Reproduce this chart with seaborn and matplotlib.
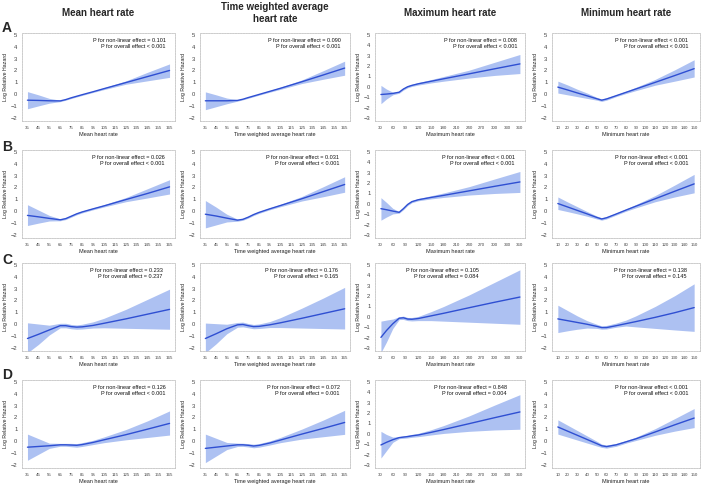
import numpy as np
import matplotlib
matplotlib.use("Agg")
import matplotlib.pyplot as plt
import seaborn as sns

sns.set_style("white")
plt.rcParams["font.family"] = ["Liberation Sans", "DejaVu Sans"]

# ─── Data ───────────────────────────────────────────────────────────────────
col_titles = ["Mean heart rate", "Time weighted average\nheart rate",
              "Maximum heart rate", "Minimum heart rate"]
x_labels = ["Mean heart rate", "Time weighted average heart rate",
            "Maximum heart rate", "Minimum heart rate"]
row_letters = ["A", "B", "C", "D"]

mean_x = [35, 45, 55, 65, 70, 75, 80, 85, 95, 105, 125, 145, 165]
twa_x = [35, 45, 55, 65, 70, 75, 80, 85, 95, 105, 125, 145, 165]
max_x = [32, 45, 60, 75, 85, 95, 105, 120, 150, 180, 240, 300, 360]
min_x = [10, 20, 30, 40, 50, 55, 60, 70, 80, 90, 110, 130, 150]

mean_ticks = list(range(35, 166, 10))
twa_ticks = list(range(35, 166, 10))
max_ticks = list(range(30, 361, 30))
min_ticks = list(range(10, 151, 10))

# Row A
a_mean_fit = [-0.5, -0.52, -0.55, -0.56, -0.45, -0.3, -0.17, -0.04, 0.21, 0.47, 0.98, 1.49, 2.0]
a_mean_lo = [-1.22, -0.98, -0.75, -0.62, -0.5, -0.36, -0.23, -0.1, 0.15, 0.39, 0.84, 1.13, 1.42]
a_mean_hi = [0.22, -0.05, -0.35, -0.5, -0.4, -0.24, -0.11, 0.02, 0.27, 0.55, 1.12, 1.85, 2.55]
a_twa_fit = [-0.55, -0.55, -0.55, -0.52, -0.42, -0.28, -0.15, -0.02, 0.24, 0.5, 1.05, 1.62, 2.2]
a_twa_lo = [-1.3, -1.05, -0.8, -0.58, -0.47, -0.34, -0.21, -0.08, 0.17, 0.41, 0.9, 1.26, 1.6]
a_twa_hi = [0.2, -0.05, -0.32, -0.46, -0.37, -0.22, -0.09, 0.04, 0.31, 0.59, 1.2, 1.98, 2.78]
a_max_fit = [-0.72, -0.68, -0.62, -0.5, -0.2, 0.02, 0.15, 0.3, 0.54, 0.78, 1.25, 1.73, 2.2]
a_max_lo = [-1.6, -1.15, -0.75, -0.6, -0.3, -0.08, 0.05, 0.18, 0.38, 0.55, 0.85, 1.1, 1.28]
a_max_hi = [0.15, -0.2, -0.5, -0.42, -0.1, 0.12, 0.25, 0.42, 0.7, 1.0, 1.6, 2.35, 3.1]
a_min_fit = [0.6, 0.36, 0.11, -0.13, -0.38, -0.5, -0.4, -0.12, 0.16, 0.44, 1.0, 1.57, 2.15]
a_min_lo = [0.1, -0.05, -0.2, -0.35, -0.5, -0.6, -0.5, -0.2, 0.06, 0.3, 0.76, 1.1, 1.45]
a_min_hi = [1.1, 0.78, 0.42, 0.1, -0.26, -0.4, -0.3, -0.04, 0.26, 0.58, 1.25, 2.05, 2.9]

# Row B
b_mean_fit = [-0.35, -0.47, -0.6, -0.72, -0.62, -0.42, -0.22, -0.06, 0.2, 0.45, 0.98, 1.5, 2.05]
b_mean_lo = [-1.2, -1.0, -0.82, -0.8, -0.7, -0.5, -0.3, -0.14, 0.12, 0.36, 0.8, 1.12, 1.45]
b_mean_hi = [0.55, 0.1, -0.35, -0.64, -0.54, -0.34, -0.14, 0.02, 0.28, 0.55, 1.15, 1.9, 2.65]
b_twa_fit = [-0.25, -0.4, -0.58, -0.75, -0.68, -0.5, -0.28, -0.1, 0.2, 0.48, 1.05, 1.65, 2.25]
b_twa_lo = [-1.4, -1.15, -0.9, -0.84, -0.76, -0.58, -0.36, -0.18, 0.12, 0.38, 0.86, 1.22, 1.6]
b_twa_hi = [0.9, 0.35, -0.25, -0.66, -0.6, -0.42, -0.2, -0.02, 0.28, 0.58, 1.24, 2.06, 2.9]
b_max_fit = [-0.45, -0.55, -0.68, -0.8, -0.45, -0.05, 0.22, 0.4, 0.62, 0.82, 1.25, 1.68, 2.1]
b_max_lo = [-1.55, -1.25, -0.95, -0.88, -0.55, -0.15, 0.12, 0.3, 0.48, 0.62, 0.85, 1.0, 1.1]
b_max_hi = [0.6, 0.15, -0.42, -0.72, -0.35, 0.05, 0.32, 0.52, 0.78, 1.05, 1.65, 2.38, 3.1]
b_min_fit = [0.65, 0.36, 0.07, -0.22, -0.52, -0.65, -0.55, -0.23, 0.1, 0.42, 1.05, 1.68, 2.3]
b_min_lo = [0.15, -0.03, -0.22, -0.42, -0.65, -0.75, -0.65, -0.32, 0.0, 0.28, 0.8, 1.2, 1.55]
b_min_hi = [1.2, 0.78, 0.38, -0.02, -0.4, -0.55, -0.45, -0.14, 0.2, 0.56, 1.32, 2.2, 3.1]

# Row C
c_mean_fit = [-1.2, -0.85, -0.48, -0.12, -0.12, -0.2, -0.24, -0.22, -0.1, 0.08, 0.45, 0.85, 1.25]
c_mean_lo = [-2.4, -1.7, -0.9, -0.3, -0.3, -0.38, -0.42, -0.4, -0.32, -0.3, -0.34, -0.38, -0.42]
c_mean_hi = [0.12, 0.02, -0.08, 0.08, 0.08, -0.02, -0.06, 0.0, 0.2, 0.5, 1.25, 2.1, 2.95]
c_twa_fit = [-1.2, -0.8, -0.38, -0.05, -0.02, -0.12, -0.2, -0.18, -0.05, 0.12, 0.5, 0.9, 1.3]
c_twa_lo = [-2.4, -1.65, -0.8, -0.25, -0.22, -0.3, -0.38, -0.36, -0.28, -0.28, -0.32, -0.36, -0.4]
c_twa_hi = [0.1, 0.05, 0.0, 0.15, 0.18, 0.06, -0.02, 0.02, 0.22, 0.55, 1.35, 2.2, 3.1]
c_max_fit = [-1.95, -1.3, -0.65, -0.12, -0.08, -0.2, -0.22, -0.15, 0.1, 0.35, 0.88, 1.4, 1.9]
c_max_lo = [-3.4, -2.4, -1.1, -0.25, -0.24, -0.35, -0.38, -0.35, -0.35, -0.4, -0.5, -0.6, -0.7]
c_max_hi = [-0.4, -0.3, -0.2, 0.02, 0.08, -0.05, -0.05, 0.05, 0.5, 1.0, 2.1, 3.3, 4.5]
c_min_fit = [0.45, 0.3, 0.15, 0.0, -0.18, -0.28, -0.28, -0.12, 0.05, 0.22, 0.58, 0.97, 1.4]
c_min_lo = [-0.7, -0.55, -0.42, -0.32, -0.35, -0.42, -0.4, -0.25, -0.15, -0.22, -0.35, -0.48, -0.6]
c_min_hi = [1.6, 1.15, 0.7, 0.3, 0.0, -0.14, -0.1, 0.1, 0.35, 0.7, 1.5, 2.4, 3.4]

# Row D
d_mean_fit = [-0.5, -0.44, -0.38, -0.3, -0.3, -0.32, -0.34, -0.28, -0.1, 0.12, 0.55, 1.02, 1.5]
d_mean_lo = [-1.6, -1.1, -0.6, -0.42, -0.42, -0.46, -0.5, -0.44, -0.28, -0.12, 0.12, 0.32, 0.52]
d_mean_hi = [0.6, 0.22, -0.16, -0.18, -0.18, -0.18, -0.2, -0.12, 0.08, 0.36, 0.98, 1.72, 2.55]
d_twa_fit = [-0.6, -0.5, -0.4, -0.3, -0.3, -0.34, -0.4, -0.35, -0.15, 0.1, 0.6, 1.08, 1.58]
d_twa_lo = [-1.8, -1.25, -0.7, -0.44, -0.43, -0.48, -0.55, -0.5, -0.32, -0.12, 0.18, 0.38, 0.58]
d_twa_hi = [0.6, 0.25, -0.1, -0.16, -0.17, -0.2, -0.25, -0.2, 0.02, 0.32, 1.02, 1.78, 2.6]
d_max_fit = [-1.05, -0.8, -0.55, -0.35, -0.3, -0.25, -0.18, -0.1, 0.15, 0.42, 0.98, 1.55, 2.1]
d_max_lo = [-2.3, -1.6, -0.8, -0.45, -0.42, -0.38, -0.32, -0.26, -0.1, 0.05, 0.25, 0.38, 0.45]
d_max_hi = [0.25, -0.05, -0.3, -0.25, -0.18, -0.12, -0.04, 0.06, 0.4, 0.8, 1.72, 2.75, 3.75]
d_min_fit = [1.2, 0.85, 0.5, 0.15, -0.2, -0.38, -0.45, -0.3, -0.05, 0.2, 0.78, 1.38, 1.95]
d_min_lo = [0.6, 0.35, 0.1, -0.15, -0.4, -0.52, -0.58, -0.42, -0.16, 0.06, 0.5, 0.85, 1.15]
d_min_hi = [1.8, 1.35, 0.9, 0.45, 0.0, -0.24, -0.32, -0.18, 0.06, 0.34, 1.06, 1.9, 2.75]

p_nonlinear = [["= 0.101", "= 0.090", "= 0.008", "< 0.001"],
               ["= 0.026", "= 0.031", "< 0.001", "< 0.001"],
               ["= 0.233", "= 0.176", "= 0.105", "= 0.138"],
               ["= 0.126", "= 0.072", "= 0.848", "< 0.001"]]
p_overall = [["< 0.001", "< 0.001", "< 0.001", "< 0.001"],
             ["< 0.001", "< 0.001", "< 0.001", "< 0.001"],
             ["= 0.237", "= 0.165", "= 0.084", "= 0.145"],
             ["< 0.001", "= 0.001", "= 0.004", "< 0.001"]]

# ─── Layout ─────────────────────────────────────────────────────────────────
W, H = 709, 492
col_left = [22, 200, 375, 552]
col_width = [153, 150, 150, 148]
row_top = [33, 150, 263, 380]
row_h = 88

col_x = [mean_x, twa_x, max_x, min_x]
col_ticks = [mean_ticks, twa_ticks, max_ticks, min_ticks]
col_xlim = [(30, 170), (30, 170), (18, 372), (4, 156)]
col_ylim = [(-2.25, 5.15), (-2.25, 5.15), (-3.25, 5.15), (-2.25, 5.15)]
col_yticks = [range(-2, 6), range(-2, 6), range(-3, 6), range(-2, 6)]

panels = [
    [(a_mean_fit, a_mean_lo, a_mean_hi), (a_twa_fit, a_twa_lo, a_twa_hi),
     (a_max_fit, a_max_lo, a_max_hi), (a_min_fit, a_min_lo, a_min_hi)],
    [(b_mean_fit, b_mean_lo, b_mean_hi), (b_twa_fit, b_twa_lo, b_twa_hi),
     (b_max_fit, b_max_lo, b_max_hi), (b_min_fit, b_min_lo, b_min_hi)],
    [(c_mean_fit, c_mean_lo, c_mean_hi), (c_twa_fit, c_twa_lo, c_twa_hi),
     (c_max_fit, c_max_lo, c_max_hi), (c_min_fit, c_min_lo, c_min_hi)],
    [(d_mean_fit, d_mean_lo, d_mean_hi), (d_twa_fit, d_twa_lo, d_twa_hi),
     (d_max_fit, d_max_lo, d_max_hi), (d_min_fit, d_min_lo, d_min_hi)],
]
# where the p-value text block ends (axes fraction)
p_text_x = [[0.94, 0.94, 0.95, 0.92],
            [0.93, 0.93, 0.93, 0.92],
            [0.92, 0.92, 0.69, 0.91],
            [0.94, 0.93, 0.88, 0.92]]

LINE = "#2f4fd2"
BAND = "#adc1f2"

fig = plt.figure(figsize=(W / 100, H / 100), dpi=100)

for r in range(4):
    for c in range(4):
        fit, lo, hi = panels[r][c]
        x = col_x[c]
        ax = fig.add_axes([col_left[c] / W, 1 - (row_top[r] + row_h) / H,
                           col_width[c] / W, row_h / H])
        ax.fill_between(x, lo, hi, color=BAND, linewidth=0, zorder=1)
        sns.lineplot(x=x, y=fit, ax=ax, color=LINE, linewidth=1.0, zorder=2)
        ax.set_xlim(*col_xlim[c])
        ax.set_ylim(*col_ylim[c])
        ax.set_xticks(col_ticks[c])
        ax.set_yticks(list(col_yticks[c]))
        ax.tick_params(axis="x", labelsize=3.2, length=1.8, width=0.4,
                       pad=1.5, colors="#444444")
        ax.tick_params(axis="y", labelsize=4.2, length=1.8, width=0.4,
                       pad=1.5, colors="#444444")
        ax.set_xlabel(x_labels[c], fontsize=4.0, labelpad=2, color="#222222")
        ax.set_ylabel("Log Relative Hazard", fontsize=3.8, labelpad=2,
                      color="#222222")
        for sp in ax.spines.values():
            sp.set_color("#c4c4c4")
            sp.set_linewidth(0.6)
            sp.set_linestyle((0, (2, 1.2)))
        ax.text(p_text_x[r][c], 0.94,
                f"P for non-linear effect {p_nonlinear[r][c]}\n"
                f"P for overall effect {p_overall[r][c]}",
                transform=ax.transAxes, ha="right", va="top",
                multialignment="right", fontsize=4.0, linespacing=1.3,
                color="#111111")

for c in range(4):
    fig.text((col_left[c] + col_width[c] / 2) / W, 1 - 13 / H, col_titles[c],
             ha="center", va="center", fontsize=7, fontweight="bold",
             linespacing=1.2)

for r, y_px in enumerate([28, 147, 260, 375]):
    fig.text(7 / W, 1 - y_px / H, row_letters[r], ha="center", va="center",
             fontsize=10, fontweight="bold")

fig.savefig("out.png", dpi=100)
